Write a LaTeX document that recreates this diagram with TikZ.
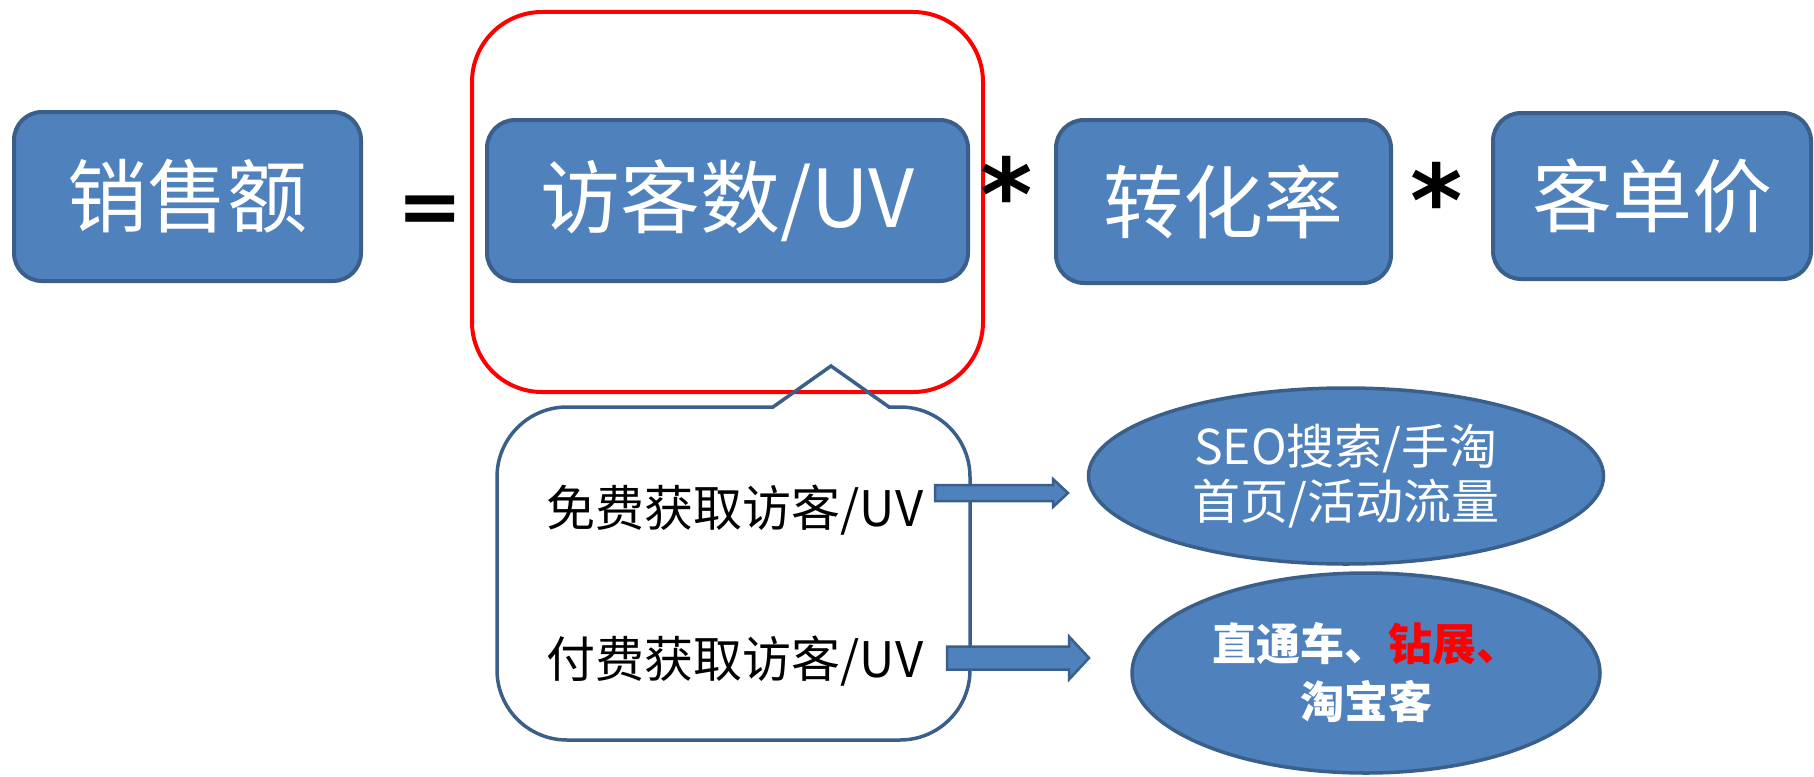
\documentclass[tikz,border=0pt]{standalone}
\usepackage{fontspec}
\newfontfamily\cjk{Noto Sans CJK SC}
\newfontfamily\dvs{DejaVu Sans}
\usetikzlibrary{shapes.geometric}
\definecolor{bfill}{HTML}{4F81BD}
\definecolor{bdark}{HTML}{3A5F8B}
\tikzset{
  bigbox/.style={draw=bdark, fill=bfill, line width=4pt, rounded corners=28pt,
    text=white, inner sep=0pt, font=\cjk\fontsize{80}{80}\selectfont},
  bigop/.style={anchor=base, inner sep=0pt},
  oval/.style={ellipse, draw=bdark, fill=bfill, line width=3.5pt, text=white, inner sep=0pt, align=center},
  barrow/.style={draw=bdark, fill=bfill, line width=2.5pt, line join=miter},
  calltext/.style={inner sep=0pt, font=\cjk\fontsize{49}{55}\selectfont}
}
\begin{document}
\begin{tikzpicture}[x=1pt,y=1pt]
\useasboundingbox (0,0) rectangle (1814,-776);
% red frame
\node[draw=red, line width=4pt, rounded corners=70pt, minimum width=511pt, minimum height=380pt, inner sep=0pt] (frame) at (727.5,-202) {};
% top boxes
\node[bigbox, minimum width=347pt, minimum height=169pt] (sales) at (187.5,-196.5) {销售额};
\node[bigbox, minimum width=481pt, minimum height=161pt] (uv) at (727.5,-200.5) {访客数/UV};
\node[bigbox, minimum width=335pt, minimum height=163pt] (conv) at (1223.5,-201.5) {转化率};
\node[bigbox, minimum width=318pt, minimum height=166pt] (price) at (1652,-196) {客单价};
\node[bigop, font=\dvs\bfseries\fontsize{78}{78}\selectfont] (eq) at (430,-233) {=};
\node[bigop, font=\dvs\bfseries\fontsize{100}{100}\selectfont] (m1) at (1007,-230) {*};
\node[bigop, font=\dvs\bfseries\fontsize{100}{100}\selectfont] (m2) at (1437,-236) {*};
% callout
\draw[bdark, line width=3.5pt, line join=miter]
  (567,-407) -- (773,-407) -- (831,-366) -- (889,-407) -- (900,-407)
  arc[start angle=90,end angle=0,radius=70] -- (970,-670)
  arc[start angle=0,end angle=-90,radius=70] -- (567,-740)
  arc[start angle=270,end angle=180,radius=70] -- (497,-477)
  arc[start angle=180,end angle=90,radius=70] -- cycle;
\node[calltext] (free) at (735,-510) {免费获取访客/UV};
\node[calltext] (paid) at (735,-661) {付费获取访客/UV};
% ellipses
\node[oval, minimum width=515pt, minimum height=176pt, font=\cjk\fontsize{48}{55}\selectfont] (seo) at (1346,-476) {SEO搜索/手淘\\首页/活动流量};
\node[oval, minimum width=468pt, minimum height=200pt, font=\cjk\bfseries\fontsize{44}{58}\selectfont] (ztc) at (1366,-673) {直通车、\textcolor{red}{钻展、}\\淘宝客};
% block arrows
\coordinate (t1) at (935,-493);
\coordinate (t2) at (947,-658);
\draw[barrow] ([shift={(0,8)}]t1) -- ++(118,0) -- ++(0,6) -- ++(15,-14) -- ++(-15,-14) -- ++(0,6) -- ++(-118,0) -- cycle;
\draw[barrow] ([shift={(0,11.5)}]t2) -- ++(122,0) -- ++(0,10) -- ++(20,-21.5) -- ++(-20,-21.5) -- ++(0,10) -- ++(-122,0) -- cycle;
\end{tikzpicture}
\end{document}
